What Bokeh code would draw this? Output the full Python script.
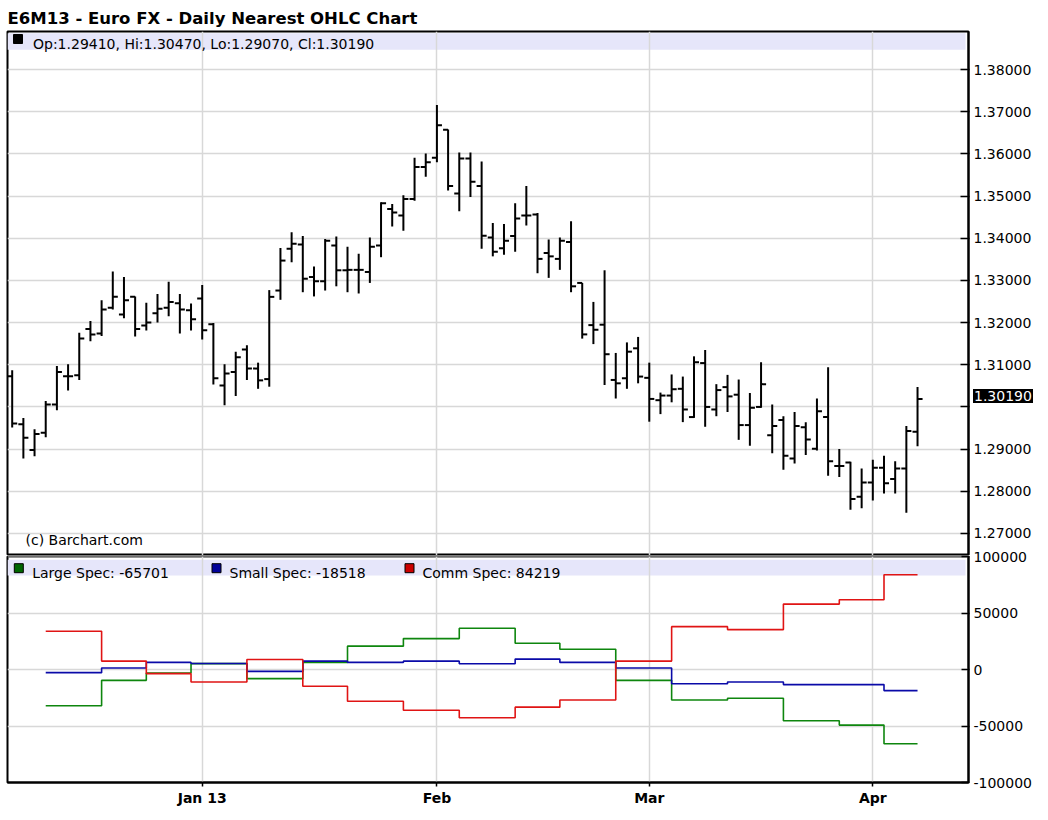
from bokeh.plotting import figure
from bokeh.models import (Range1d, FixedTicker, PrintfTickFormatter, Label, BoxAnnotation,
                          ColumnDataSource, Title, Div)
from bokeh.embed import file_html
from bokeh.resources import INLINE

# ---------------- data ----------------
title_text = "E6M13 - Euro FX - Daily Nearest OHLC Chart"
source_note = "(c) Barchart.com"

opens = [1.3073, 1.2959, 1.2898, 1.2939, 1.3006, 1.3073, 1.3075, 1.3185, 1.3174, 1.3235,
         1.3219, 1.3261, 1.3193, 1.3222, 1.3235, 1.3246, 1.3229, 1.3257, 1.3196, 1.3051,
         1.3083, 1.3136, 1.3091, 1.3066, 1.3276, 1.3375, 1.3385, 1.3308, 1.3298, 1.3383,
         1.3324, 1.3325, 1.3320, 1.3383, 1.3469, 1.3454, 1.3493, 1.3569, 1.3591, 1.3657,
         1.3506, 1.3589, 1.3524, 1.3402, 1.3376, 1.3405, 1.3454, 1.3456, 1.3365, 1.3351,
         1.3391, 1.3294, 1.3194, 1.3195, 1.3064, 1.3068, 1.3139, 1.3069, 1.3016, 1.3027,
         1.3043, 1.2976, 1.3104, 1.2994, 1.3047, 1.3029, 1.2957, 1.3000, 1.2933, 1.2969,
         1.2878, 1.2952, 1.2901, 1.2976, 1.2860, 1.2868, 1.2787, 1.2821, 1.2856, 1.2829,
         1.2854, 1.2941]
highs = [1.3087, 1.2974, 1.2947, 1.3014, 1.3097, 1.3101, 1.3176, 1.3204, 1.3253, 1.3321,
         1.3308, 1.3262, 1.3247, 1.3268, 1.3297, 1.3268, 1.3245, 1.3289, 1.3199, 1.3101,
         1.3131, 1.3146, 1.3105, 1.3277, 1.3377, 1.3414, 1.3405, 1.3333, 1.3398, 1.3404,
         1.3380, 1.3363, 1.3402, 1.3485, 1.3481, 1.3502, 1.3591, 1.3601, 1.3716, 1.3658,
         1.3603, 1.3603, 1.3582, 1.3436, 1.3434, 1.3483, 1.3524, 1.3460, 1.3397, 1.3402,
         1.3440, 1.3294, 1.3249, 1.3324, 1.3128, 1.3153, 1.3166, 1.3105, 1.3034, 1.3077,
         1.3072, 1.3120, 1.3135, 1.3054, 1.3076, 1.3065, 1.3033, 1.3106, 1.3006, 1.2978,
         1.2988, 1.2964, 1.3020, 1.3094, 1.2900, 1.2870, 1.2854, 1.2875, 1.2884, 1.2871,
         1.2955, 1.3047]
lows = [1.2951, 1.2878, 1.2883, 1.2928, 1.2992, 1.3039, 1.3064, 1.3156, 1.3168, 1.3231,
        1.3210, 1.3167, 1.3181, 1.3200, 1.3215, 1.3174, 1.3181, 1.3160, 1.3053, 1.3004,
        1.3026, 1.3064, 1.3043, 1.3048, 1.3254, 1.3343, 1.3272, 1.3262, 1.3276, 1.3286,
        1.3272, 1.3269, 1.3294, 1.3355, 1.3428, 1.3418, 1.3489, 1.3546, 1.3580, 1.3513,
        1.3464, 1.3498, 1.3375, 1.3357, 1.3361, 1.3368, 1.3430, 1.3317, 1.3306, 1.3325,
        1.3272, 1.3162, 1.3149, 1.3052, 1.3020, 1.3043, 1.3056, 1.2965, 1.2983, 1.3011,
        1.2964, 1.2974, 1.2953, 1.2978, 1.2988, 1.2922, 1.2908, 1.2998, 1.2890, 1.2851,
        1.2866, 1.2886, 1.2897, 1.2837, 1.2834, 1.2756, 1.2760, 1.2778, 1.2795, 1.2795,
        1.2749, 1.2907]
closes = [1.2961, 1.2927, 1.2936, 1.3006, 1.3083, 1.3073, 1.3162, 1.3172, 1.3231, 1.3261,
          1.3253, 1.3185, 1.3200, 1.3233, 1.3249, 1.3231, 1.3208, 1.3182, 1.3068, 1.3079,
          1.3118, 1.3091, 1.3063, 1.3261, 1.3347, 1.3387, 1.3304, 1.3298, 1.3394, 1.3324,
          1.3325, 1.3325, 1.3380, 1.3483, 1.3461, 1.3493, 1.3569, 1.3580, 1.3668, 1.3524,
          1.3589, 1.3534, 1.3406, 1.3368, 1.3394, 1.3447, 1.3454, 1.3351, 1.3357, 1.3394,
          1.3286, 1.3172, 1.3183, 1.3125, 1.3056, 1.3131, 1.3072, 1.3019, 1.3027, 1.3042,
          1.2994, 1.3106, 1.3000, 1.3040, 1.3025, 1.2957, 1.2998, 1.3054, 1.2955, 1.2884,
          1.2955, 1.2923, 1.2990, 1.2871, 1.2860, 1.2782, 1.2821, 1.2856, 1.2819, 1.2854,
          1.2943, 1.3019]

# trading-day index of the first bar of each month, and their labels
month_idx = [17, 38, 57, 77]
month_labels = ["Jan 13", "Feb", "Mar", "Apr"]

price_ticks = [1.27, 1.28, 1.29, 1.3, 1.31, 1.32, 1.33, 1.34, 1.35, 1.36, 1.37, 1.38]

# COT weekly report positions (trading-day index where each week starts, plus end)
cot_idx = [3, 8, 12, 16, 21, 26, 30, 35, 40, 45, 49, 54, 59, 64, 69, 74, 78, 81]
large_spec = [-32000, -9400, -2900, 5400, -7900, 6500, 20900, 27600, 36800, 23500,
              18200, -9400, -26800, -25300, -45300, -49100, -65701]
small_spec = [-2600, 1500, 6500, 5500, -1500, 7600, 6500, 7600, 5300, 9400,
              6500, 1500, -12400, -10900, -13200, -13200, -18518]
comm_spec = [34100, 7650, -3500, -10900, 9100, -14700, -27900, -35900, -42600, -33200,
             -26800, 7650, 38200, 35600, 58200, 62000, 84219]
cot_ticks = [-100000, -50000, 0, 50000, 100000]

# ---------------- layout constants ----------------
FONT = "DejaVu Sans"
FL = 7            # frame left (page px)
FT = 31           # top frame top
FRAME_W = 961
TOP_H = 524
BOT_TOP = FT + TOP_H + 1   # 556: one pixel below, so the two outlines form a thick separator
BOT_H = 226
OVERLAP = 11
RIGHT_B = 80
X0 = -0.42
X1 = X0 + FRAME_W / 11.177
P_LO, P_HI = 1.26478, 1.38901
C_LO, C_HI = -100000, 100400
GRID = "#D8D8D8"
BAND = "#E6E6FA"


def px_x(px):
    return X0 + (px - FL) / FRAME_W * (X1 - X0)


def py_price(py):
    return P_HI - (py - FT) / TOP_H * (P_HI - P_LO)


def price_py(v):
    return FT + (P_HI - v) / (P_HI - P_LO) * TOP_H


def py_cot(py):
    return C_HI - (py - BOT_TOP) / BOT_H * (C_HI - C_LO)


x_range = Range1d(X0, X1)

# ---------------- top panel: OHLC ----------------
p1 = figure(frame_width=FRAME_W, frame_height=TOP_H, x_range=x_range,
            y_range=Range1d(P_LO, P_HI),
            output_backend="svg", toolbar_location=None,
            x_axis_location=None, y_axis_location="right",
            min_border_left=FL, min_border_right=RIGHT_B, min_border_top=FT, min_border_bottom=0,
            background_fill_color="white", border_fill_color="white",
            outline_line_color="black", outline_line_width=2)
p1.title = Title(text=title_text, align="left", text_font=FONT, text_font_style="bold",
                 text_font_size="16.5px", text_color="black", standoff=8, offset=0)

p1.xgrid.ticker = FixedTicker(ticks=month_idx)
p1.ygrid.ticker = FixedTicker(ticks=price_ticks)
for g in (p1.xgrid, p1.ygrid):
    g.grid_line_color = GRID
    g.grid_line_width = 1.5

ax = p1.yaxis[0]
ax.ticker = FixedTicker(ticks=price_ticks)
ax.formatter = PrintfTickFormatter(format="%.5f")
ax.major_label_overrides = {1.3: ""}
ax.axis_line_color = "black"
ax.axis_line_width = 2
ax.major_tick_in = 8
ax.major_tick_out = 1
ax.major_tick_line_width = 1.5
ax.minor_tick_line_color = None
ax.major_label_standoff = 4
ax.major_label_text_font = FONT
ax.major_label_text_font_size = "14px"
ax.major_label_text_color = "black"

band1 = BoxAnnotation(top=py_price(32.7), bottom=py_price(49.3), left=X0, right=px_x(965),
                      fill_color=BAND, fill_alpha=1, line_alpha=0, level="image")
p1.add_layout(band1)

xs = list(range(len(opens)))
tick = 0.45
src = ColumnDataSource(dict(
    x=xs, high=highs, low=lows, open=opens, close=closes,
    xo=[x - tick for x in xs], xc=[x + tick for x in xs]))
p1.segment(x0="x", y0="low", x1="x", y1="high", source=src, line_color="black", line_width=2)
p1.segment(x0="xo", y0="open", x1="x", y1="open", source=src, line_color="black", line_width=2)
p1.segment(x0="x", y0="close", x1="xc", y1="close", source=src, line_color="black", line_width=2)

# legend square + text
p1.scatter(x=[px_x(17.5)], y=[py_price(38.5)], marker="square", size=9,
           fill_color="black", line_color="black")
ohlc_text = "Op:%.5f, Hi:%.5f, Lo:%.5f, Cl:%.5f" % (opens[-1], highs[-1], lows[-1], closes[-1])
p1.add_layout(Label(x=px_x(32.5), y=py_price(43.5), text=ohlc_text, text_font=FONT,
                    text_font_size="14px", text_color="black", text_baseline="alphabetic"))
p1.add_layout(Label(x=px_x(25), y=py_price(539.5), text=source_note, text_font=FONT,
                    text_font_size="14px", text_color="black", text_baseline="alphabetic"))

# ---------------- bottom panel: COT ----------------
p2 = figure(frame_width=FRAME_W, frame_height=BOT_H, x_range=x_range,
            y_range=Range1d(C_LO, C_HI),
            output_backend="svg", toolbar_location=None,
            x_axis_location="below", y_axis_location="right",
            min_border_left=FL, min_border_right=RIGHT_B, min_border_top=OVERLAP,
            min_border_bottom=30,
            background_fill_color="white", border_fill_color=None,
            outline_line_color="black", outline_line_width=2)
p2.styles = {"position": "absolute", "left": "0px", "top": "%dpx" % (BOT_TOP - OVERLAP)}

p2.xgrid.ticker = FixedTicker(ticks=month_idx)
p2.ygrid.ticker = FixedTicker(ticks=cot_ticks)
for g in (p2.xgrid, p2.ygrid):
    g.grid_line_color = GRID
    g.grid_line_width = 1.5

ay = p2.yaxis[0]
ay.ticker = FixedTicker(ticks=cot_ticks)
ay.formatter = PrintfTickFormatter(format="%d")
ay.axis_line_color = "black"
ay.axis_line_width = 2
ay.major_tick_in = 7
ay.major_tick_out = 1
ay.major_tick_line_width = 1.5
ay.minor_tick_line_color = None
ay.major_label_standoff = 4
ay.major_label_text_font = FONT
ay.major_label_text_font_size = "14px"
ay.major_label_text_color = "black"

axx = p2.xaxis[0]
axx.ticker = FixedTicker(ticks=month_idx)
axx.major_label_overrides = {i: lab for i, lab in zip(month_idx, month_labels)}
axx.axis_line_color = "black"
axx.axis_line_width = 2
axx.major_tick_in = 0
axx.major_tick_out = 4
axx.major_tick_line_width = 1.5
axx.minor_tick_line_color = None
axx.major_label_standoff = 3
axx.major_label_text_font = FONT
axx.major_label_text_font_style = "bold"
axx.major_label_text_font_size = "14px"
axx.major_label_text_color = "black"

band2 = BoxAnnotation(top=py_cot(559.3), bottom=py_cot(575), left=X0, right=px_x(965),
                      fill_color=BAND, fill_alpha=1, line_alpha=0, level="image")
p2.add_layout(band2)

series = [
    ("Large Spec", large_spec, "#0E860E", "#006600", 18.3, 31.7),
    ("Small Spec", small_spec, "#0A0AA8", "#000099", 216.0, 229.0),
    ("Comm Spec", comm_spec, "#E01414", "#CC0000", 409.0, 422.0),
]
for name, vals, col, sq, sqx, tx in series:
    p2.step(x=cot_idx, y=vals + [vals[-1]], mode="after", line_color=col, line_width=1.6)
    p2.scatter(x=[px_x(sqx)], y=[py_cot(567.7)], marker="square", size=9,
               fill_color=sq, line_color="black", line_width=1)
    p2.add_layout(Label(x=px_x(tx), y=py_cot(572.5), text="%s: %d" % (name, vals[-1]),
                        text_font=FONT, text_font_size="14px", text_color="black",
                        text_baseline="alphabetic"))

# ---------------- last-price tag on the price scale ----------------
tag_top = price_py(closes[-1]) - 9
tag = Div(text="%.5f" % closes[-1],
          styles={"position": "absolute", "left": "%dpx" % (FL + FRAME_W + 5),
                  "top": "%.0fpx" % tag_top, "background-color": "black", "color": "white",
                  "font-family": FONT, "font-size": "14px", "line-height": "14px",
                  "padding": "0px 1px", "margin": "0px"})

open("out.html", "w").write(file_html([p1, p2, tag], INLINE))
